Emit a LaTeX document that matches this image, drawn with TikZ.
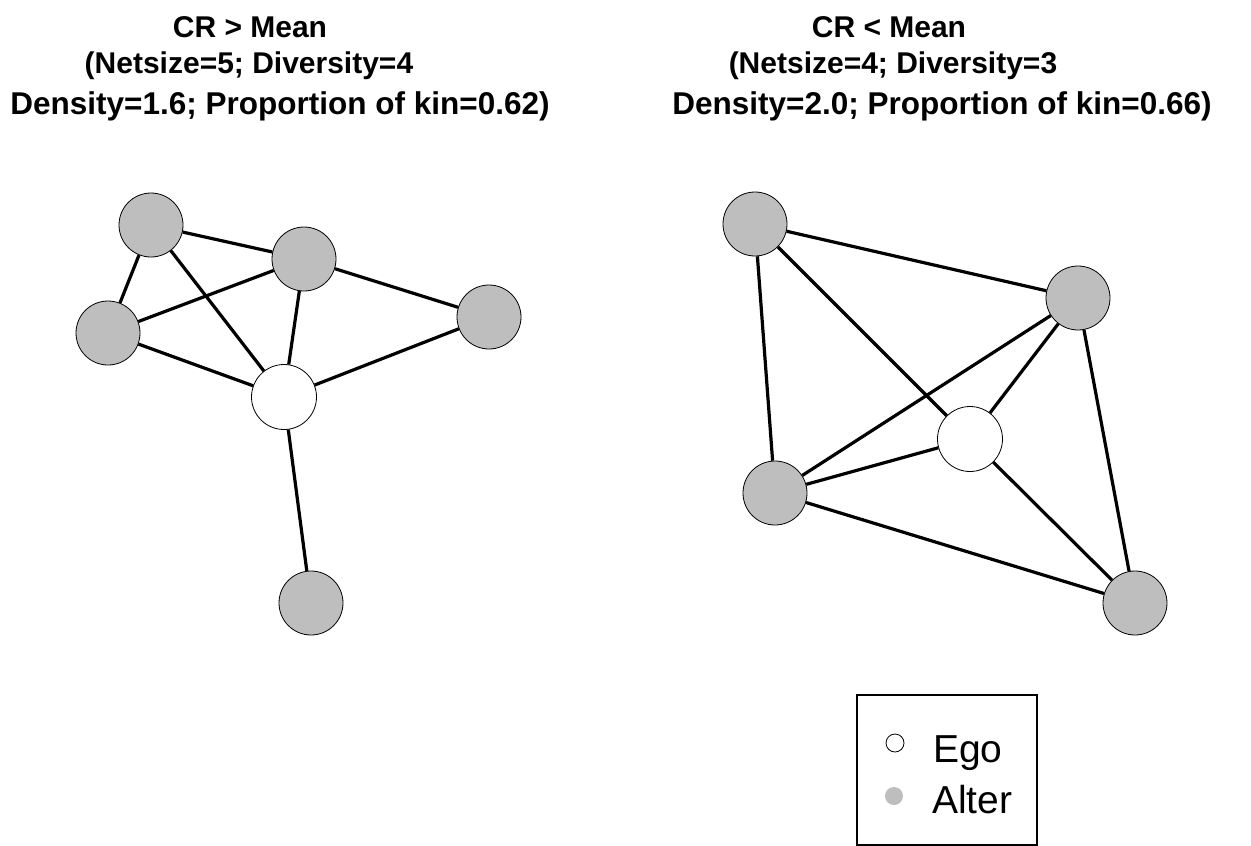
\documentclass[tikz,border=0pt]{standalone}
\usepackage{fontspec}
\setmainfont{Liberation Sans}
\begin{document}
\begin{tikzpicture}[x=1pt,y=-1pt,
  alter/.style={circle,draw=black,line width=0.8pt,fill=altergray,minimum size=64pt,inner sep=0pt},
  ego/.style={circle,draw=black,line width=0.8pt,fill=white,minimum size=65pt,inner sep=0pt},
  tie/.style={line width=3.2pt,black},
  ttl/.style={anchor=base,font=\bfseries\fontsize{30}{36}\selectfont,inner sep=0pt},
  ttlw/.style={anchor=base,font=\bfseries\fontsize{31.5}{36}\selectfont,inner sep=0pt},
  legtext/.style={anchor=base west,font=\fontsize{39}{44}\selectfont,inner sep=0pt}]
\definecolor{altergray}{RGB}{190,190,190}
\useasboundingbox (0,0) rectangle (1251,846);
\fill[white] (0,0) rectangle (1251,846);
% titles
\node[ttl] (t1a) at (250,37) {CR > Mean};
\node[ttl] (t1b) at (249,73) {(Netsize=5; Diversity=4};
\node[ttlw] (t1c) at (280,114) {Density=1.6; Proportion of kin=0.62)};
\node[ttl] (t2a) at (889,37) {CR < Mean};
\node[ttl] (t2b) at (893,73) {(Netsize=4; Diversity=3};
\node[ttlw] (t2c) at (942,114) {Density=2.0; Proportion of kin=0.66)};
% left network
\node[alter] (a) at (151,225) {};
\node[alter] (b) at (304,259) {};
\node[alter] (c) at (108,333) {};
\node[alter] (d) at (489,317) {};
\node[ego]   (e) at (284,397) {};
\node[alter] (f) at (311,603) {};
\draw[tie] (a) -- (b);
\draw[tie] (a) -- (c);
\draw[tie] (a) -- (e);
\draw[tie] (c) -- (b);
\draw[tie] (c) -- (e);
\draw[tie] (b) -- (e);
\draw[tie] (b) -- (d);
\draw[tie] (d) -- (e);
\draw[tie] (e) -- (f);
% right network
\node[alter] (g) at (755,224) {};
\node[alter] (h) at (1078,298) {};
\node[ego]   (i) at (970,439) {};
\node[alter] (j) at (775,493) {};
\node[alter] (k) at (1135,603) {};
\draw[tie] (g) -- (h);
\draw[tie] (g) -- (j);
\draw[tie] (g) -- (i);
\draw[tie] (h) -- (j);
\draw[tie] (h) -- (i);
\draw[tie] (h) -- (k);
\draw[tie] (j) -- (i);
\draw[tie] (j) -- (k);
\draw[tie] (i) -- (k);
% legend
\node[draw=black,line width=1.6pt,anchor=north west,minimum width=180pt,minimum height=150pt,inner sep=0pt] (legend) at (856,694) {};
\node[circle,draw=black,line width=0.8pt,fill=white,minimum size=18pt,inner sep=0pt] (legego) at (895,743) {};
\node[circle,fill=altergray,minimum size=18pt,inner sep=0pt] (legalter) at (894,796) {};
\node[legtext] (legegot) at (933,762) {Ego};
\node[legtext] (legaltert) at (932,813) {Alter};
\end{tikzpicture}
\end{document}
